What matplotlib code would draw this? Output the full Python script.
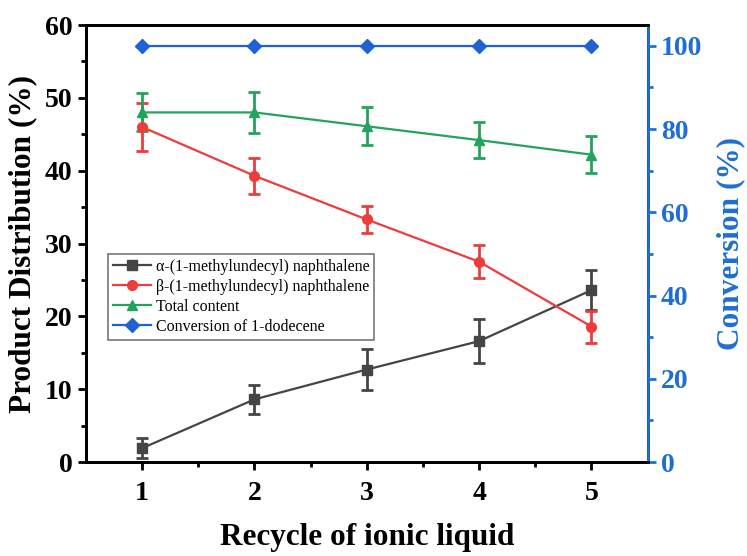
import numpy as np
import matplotlib.pyplot as plt
from matplotlib.lines import Line2D

plt.rcParams['font.family'] = ['Liberation Serif', 'DejaVu Serif']

cycles = [1, 2, 3, 4, 5]
alpha = [1.9, 8.6, 12.7, 16.6, 23.6]
alpha_err = [1.4, 2.0, 2.8, 3.0, 2.7]
beta = [46.0, 39.3, 33.3, 27.5, 18.6]
beta_err = [3.3, 2.5, 1.8, 2.3, 2.2]
total = [48.0, 48.0, 46.1, 44.2, 42.2]
total_err = [2.6, 2.8, 2.6, 2.5, 2.5]
conversion = [100, 100, 100, 100, 100]

labels = ['α-(1-methylundecyl) naphthalene', 'β-(1-methylundecyl) naphthalene',
          'Total content', 'Conversion of 1-dodecene']

c_alpha = '#454545'
c_beta = '#ee3b3b'
c_total = '#23a35c'
c_conv = '#1f62d6'
c_axis2 = '#1f6fd2'

fig = plt.figure(figsize=(7.47, 5.56), dpi=100)
ax = fig.add_axes([0.115, 0.169, 0.752, 0.786])

eb = dict(capsize=4, elinewidth=2, capthick=2, lw=1.6, markersize=7)
ax.errorbar(cycles, alpha, yerr=alpha_err, color=c_alpha, marker='s', **eb)
ax.errorbar(cycles, beta, yerr=beta_err, color=c_beta, marker='o', **eb)
ax.errorbar(cycles, total, yerr=total_err, color=c_total, marker='^', **eb)

ax2 = ax.twinx()
ax2.plot(cycles, conversion, color=c_conv, marker='D', lw=1.6, markersize=7)

ax.set_xlim(0.5, 5.5)
ax.set_ylim(0, 60)
ax2.set_ylim(0, 105)
ax.set_xticks(cycles)
ax.set_xticks([1.5, 2.5, 3.5, 4.5], minor=True)
ax.set_yticks(range(0, 61, 10))
ax.set_yticks(range(5, 60, 10), minor=True)
ax2.set_yticks(range(0, 101, 20))
ax2.set_yticks(range(10, 101, 20), minor=True)

for a in (ax, ax2):
    for s in a.spines.values():
        s.set_linewidth(2)
ax2.spines['right'].set_color(c_axis2)

ax.tick_params(axis='both', which='major', direction='out', length=6, width=2,
               labelsize=20)
ax.tick_params(axis='both', which='minor', direction='out', length=3.5, width=2)
ax.tick_params(axis='x', pad=8)
ax2.tick_params(axis='y', which='major', direction='out', length=6, width=2,
                labelsize=20, colors=c_axis2)
ax2.tick_params(axis='y', which='minor', direction='out', length=3.5, width=2,
                colors=c_axis2)
for lab in ax.get_xticklabels() + ax.get_yticklabels() + ax2.get_yticklabels():
    lab.set_fontweight('bold')

ax.set_xlabel('Recycle of ionic liquid', fontsize=22.5, fontweight='bold', labelpad=12)
ax.set_ylabel('Product Distribution (%)', fontsize=22.5, fontweight='bold', labelpad=6)
ax2.set_ylabel('Conversion (%)', fontsize=22.5, fontweight='bold', color=c_axis2,
               labelpad=10)

handles = [Line2D([], [], color=c, marker=m, lw=1.6, markersize=7)
           for c, m in [(c_alpha, 's'), (c_beta, 'o'), (c_total, '^'), (c_conv, 'D')]]
leg = ax.legend(handles, labels,
                loc='upper left', bbox_to_anchor=(0.025, 0.494), fontsize=11.5,
                frameon=True, fancybox=False, edgecolor='#555555',
                handlelength=2.4, handletextpad=0.3, borderpad=0.3, labelspacing=0.25)
leg.get_frame().set_linewidth(1.2)

fig.savefig('out.png', dpi=100)
